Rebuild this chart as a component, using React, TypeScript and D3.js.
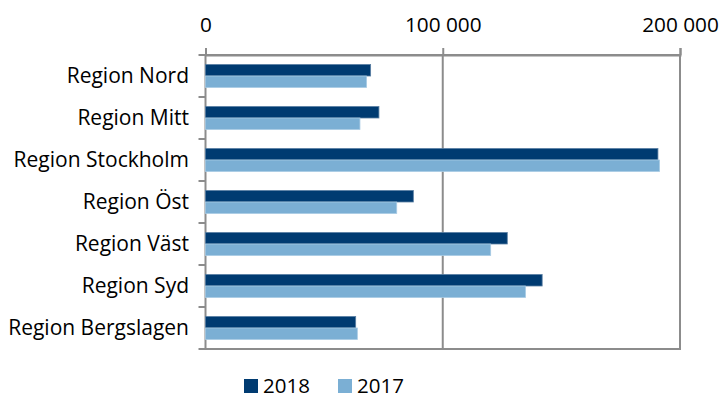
import React, { useRef, useEffect } from 'react';
import * as d3 from 'd3';

const categories = [
  'Region Nord',
  'Region Mitt',
  'Region Stockholm',
  'Region Öst',
  'Region Väst',
  'Region Syd',
  'Region Bergslagen',
];
const seriesNames = ['2018', '2017'];
const values2018 = [69600, 73100, 190700, 87600, 127200, 141900, 63300];
const values2017 = [67900, 65100, 191400, 80600, 120200, 134900, 64000];
const tickValues = [0, 100000, 200000];
const colors = ['#003b71', '#7bafd4'];

const width = 721;
const height = 400;

const App: React.FC = () => {
  const svgRef = useRef<SVGSVGElement>(null);

  useEffect(() => {
    if (!svgRef.current) return;
    const svg = d3.select(svgRef.current);
    svg.selectAll('*').remove();

    const margin = { top: 55, left: 205.5, right: 41, bottom: 51 };
    const x0 = margin.left;
    const x1 = width - margin.right;
    const y0 = margin.top;
    const y1 = height - margin.bottom;
    const font = '"Open Sans", sans-serif';
    const gridColor = '#8c8c8c';

    const locale = d3.formatLocale({ decimal: ',', thousands: ' ', grouping: [3], currency: ['', ' kr'] });
    const fmt = locale.format(',d');

    const x = d3.scaleLinear().domain([0, 200000]).range([x0, x1]);
    const y = d3.scaleBand<string>().domain(categories).range([y0, y1]).paddingInner(0.452).paddingOuter(0.226);
    const ySeries = d3.scaleBand<string>().domain(seriesNames).range([0, y.bandwidth()]);
    const data = [values2018, values2017];

    // plot border and grid
    svg
      .append('rect')
      .attr('x', x0)
      .attr('y', y0)
      .attr('width', x1 - x0)
      .attr('height', y1 - y0)
      .attr('fill', 'none')
      .attr('stroke', gridColor)
      .attr('stroke-width', 2);

    svg
      .append('g')
      .selectAll('line')
      .data(tickValues.slice(1, -1))
      .enter()
      .append('line')
      .attr('x1', (d) => x(d))
      .attr('x2', (d) => x(d))
      .attr('y1', y0)
      .attr('y2', y1)
      .attr('stroke', gridColor)
      .attr('stroke-width', 2);

    // bars
    seriesNames.forEach((s, si) => {
      svg
        .append('g')
        .selectAll('rect')
        .data(data[si])
        .enter()
        .append('rect')
        .attr('x', x(0))
        .attr('y', (_, i) => (y(categories[i]) as number) + (ySeries(s) as number))
        .attr('width', (d) => x(d) - x(0))
        .attr('height', ySeries.bandwidth())
        .attr('fill', colors[si])
        .attr('stroke', si === 0 ? '#5a7fa3' : '#a9cbe4')
        .attr('stroke-width', 0.8);
    });

    // top axis
    const xAxis = svg
      .append('g')
      .attr('transform', `translate(0,${y0})`)
      .call(d3.axisTop(x).tickValues(tickValues).tickFormat((d) => fmt(d as number)).tickSize(7).tickPadding(16));
    xAxis.select('.domain').attr('stroke', gridColor).attr('stroke-width', 2);
    xAxis.selectAll('.tick line').attr('stroke', gridColor).attr('stroke-width', 2);
    xAxis
      .selectAll('.tick text')
      .style('font-family', font)
      .style('font-size', '20.8px')
      .style('fill', '#000');

    // left axis ticks at category boundaries
    const bounds = d3.range(categories.length + 1).map((i) => y0 + i * y.step());
    svg
      .append('g')
      .selectAll('line')
      .data(bounds)
      .enter()
      .append('line')
      .attr('x1', x0 - 7)
      .attr('x2', x0)
      .attr('y1', (d) => d)
      .attr('y2', (d) => d)
      .attr('stroke', gridColor)
      .attr('stroke-width', 2);

    svg
      .append('g')
      .selectAll('text')
      .data(categories)
      .enter()
      .append('text')
      .attr('x', 189)
      .attr('y', (d) => (y(d) as number) + y.bandwidth() / 2)
      .attr('dy', '0.35em')
      .attr('text-anchor', 'end')
      .style('font-family', font)
      .style('font-size', '21px')
      .style('fill', '#000')
      .text((d) => d);

    // legend
    const legendX = [244, 338];
    const legend = svg
      .append('g')
      .selectAll('g')
      .data(seriesNames)
      .enter()
      .append('g')
      .attr('transform', (_, i) => `translate(${legendX[i]},379)`);
    legend
      .append('rect')
      .attr('width', 14)
      .attr('height', 14)
      .attr('fill', (_, i) => colors[i]);
    legend
      .append('text')
      .attr('x', 19)
      .attr('y', 14)
      .style('font-family', font)
      .style('font-size', '20.5px')
      .style('fill', '#000')
      .text((d) => d);
  }, []);

  return (
    <svg
      ref={svgRef}
      width={width}
      height={height}
      style={{ position: 'absolute', left: 0, top: 0, background: '#fff' }}
    />
  );
};

export default App;
